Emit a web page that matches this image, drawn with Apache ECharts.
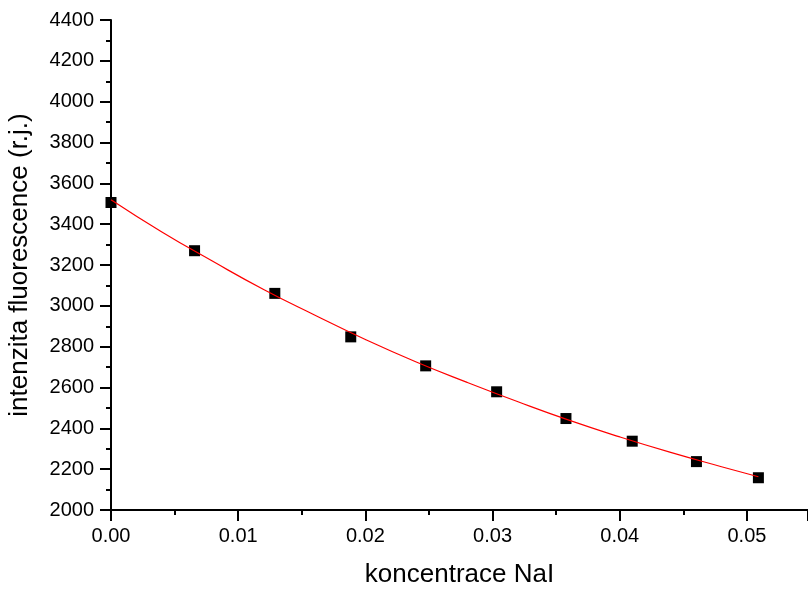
<!DOCTYPE html>
<html>
<head>
<meta charset="utf-8">
<script src="https://cdn.jsdelivr.net/npm/echarts@6/dist/echarts.min.js"></script>
<style>
  html, body { margin: 0; padding: 0; background: #fff; }
  #chart { width: 808px; height: 589px; }
</style>
</head>
<body>
<div id="chart"></div>
<script>
// measured points
const concX = [0, 0.00657, 0.01288, 0.01885, 0.02474, 0.03032, 0.03577, 0.04098, 0.04603, 0.0509];
const intensity = [3506, 3270, 3061, 2848, 2706, 2579, 2448, 2337, 2237, 2158];

// fitted curve
const fitX = [0, 0.004, 0.008, 0.012, 0.016, 0.020, 0.024, 0.028, 0.032, 0.036, 0.040, 0.044, 0.048, 0.0509];
const fitY = [3520, 3362, 3218, 3080, 2955, 2835, 2725, 2625, 2530, 2440, 2358, 2282, 2212, 2163];

const xTitle = "koncentrace NaI";
const yTitle = "intenzita fluorescence (r.j.)";

let chartDom = document.getElementById("chart");
let myChart = echarts.init(chartDom);
let option;

const font = "Arial, 'Liberation Sans', sans-serif";

option = {
  backgroundColor: "#fff",
  animation: false,
  grid: {
    left: 111,
    top: 20,
    right: 0,
    bottom: 79,
    outerBoundsMode: "none",
  },
  xAxis: {
    type: "value",
    min: 0,
    max: 0.0548,
    interval: 0.01,
    name: xTitle,
    nameLocation: "middle",
    nameGap: 52,
    nameTextStyle: { fontFamily: font, fontSize: 26, color: "#000" },
    axisLine: { lineStyle: { color: "#000", width: 2 } },
    axisTick: { length: 11, lineStyle: { color: "#000", width: 2 } },
    minorTick: { show: true, splitNumber: 2, length: 5, lineStyle: { color: "#000", width: 2 } },
    splitLine: { show: false },
    axisLabel: {
      fontFamily: font,
      fontSize: 20,
      color: "#000",
      margin: 16,
      showMaxLabel: false,
      formatter: (v) => v.toFixed(2),
    },
  },
  yAxis: {
    type: "value",
    min: 2000,
    max: 4400,
    interval: 200,
    name: yTitle,
    nameLocation: "middle",
    nameGap: 78,
    nameTextStyle: { fontFamily: font, fontSize: 26, color: "#000" },
    axisLine: { show: true, lineStyle: { color: "#000", width: 2 } },
    axisTick: { show: true, length: 11, lineStyle: { color: "#000", width: 2 } },
    minorTick: { show: true, splitNumber: 2, length: 5, lineStyle: { color: "#000", width: 2 } },
    splitLine: { show: false },
    axisLabel: {
      fontFamily: font,
      fontSize: 20,
      color: "#000",
      margin: 17,
      formatter: (v) => String(v),
    },
  },
  series: [
    {
      name: "fit",
      type: "line",
      data: fitX.map((x, i) => [x, fitY[i]]),
      smooth: true,
      showSymbol: false,
      lineStyle: { color: "#ff0000", width: 1.2 },
      z: 3,
    },
    {
      name: "data",
      type: "scatter",
      data: concX.map((x, i) => [x, intensity[i]]),
      symbol: "rect",
      symbolSize: 11,
      itemStyle: { color: "#000", opacity: 1 },
      z: 2,
    },
  ],
};

option && myChart.setOption(option);
</script>
</body>
</html>
